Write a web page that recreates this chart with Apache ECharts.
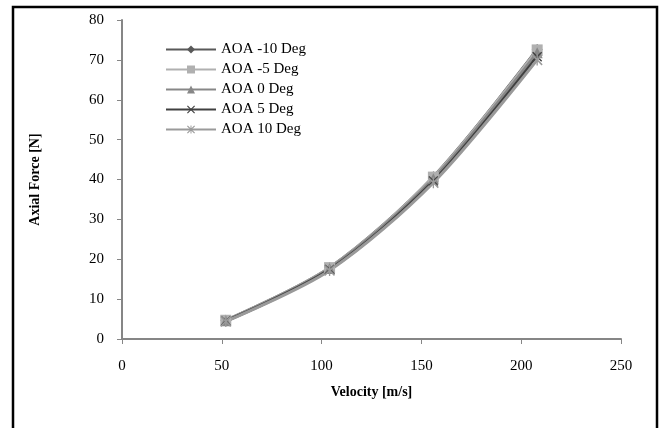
<!DOCTYPE html>
<html><head><meta charset="utf-8">
<script src="https://cdn.jsdelivr.net/npm/echarts@6/dist/echarts.min.js"></script>
<style>html,body{margin:0;padding:0;background:#fff}#c{width:660px;height:428px}</style>
</head><body><div id="c"></div>
<script>
const velocity = [52, 104, 156, 208];
const aoaM10 = [4.7, 17.9, 40.7, 72.6];
const aoaM5  = [4.7, 17.9, 40.6, 72.5];
const aoa0   = [4.6, 17.7, 40.2, 71.8];
const aoa5   = [4.5, 17.4, 39.6, 70.8];
const aoa10  = [4.4, 17.2, 39.2, 70.0];
const seriesNames = ['AOA -10 Deg', 'AOA -5 Deg', 'AOA 0 Deg', 'AOA 5 Deg', 'AOA 10 Deg'];
const xTicks = [0, 50, 100, 150, 200, 250];
const yTicks = [0, 10, 20, 30, 40, 50, 60, 70, 80];

const FONT = '"Liberation Serif", "Times New Roman", serif';
const xMark = 'path://M0,1L1,0L5,4L9,0L10,1L6,5L10,9L9,10L5,6L1,10L0,9L4,5Z';
const starMark = 'path://M0,1L1,0L5,4L9,0L10,1L6,5L10,9L9,10L5,6L1,10L0,9L4,5Z M4.4,0L5.6,0L5.6,10L4.4,10Z';
const styles = [
  {color:'#595959', symbol:'diamond', size:11},
  {color:'#b0b0b0', symbol:'rect', size:11},
  {color:'#878787', symbol:'triangle', size:11},
  {color:'#404040', symbol:xMark, size:10},
  {color:'#9a9a9a', symbol:starMark, size:11}
];
const allData = [aoaM10, aoaM5, aoa0, aoa5, aoa10];

const chart = echarts.init(document.getElementById('c'), null, {renderer:'canvas'});
chart.setOption({
  animation: false,
  backgroundColor: '#fff',
  graphic: [{
    type: 'rect', shape: {x: 13, y: 7, width: 644, height: 440},
    style: {fill: 'none', stroke: '#000', lineWidth: 2.5}, silent: true, z: 100
  }],
  legend: {
    orient: 'vertical', left: 160, top: 37, itemWidth: 50, itemHeight: 10, itemGap: 5,
    textStyle: {fontFamily: FONT, fontSize: 15, color: '#000', padding: [0,0,0,0]},
    data: seriesNames
  },
  grid: {left: 122, right: 39, top: 20, bottom: 89},
  xAxis: {
    type: 'value', min: xTicks[0], max: xTicks[xTicks.length-1], interval: 50,
    name: 'Velocity [m/s]', nameLocation: 'middle', nameGap: 46,
    nameTextStyle: {fontFamily: FONT, fontSize: 14, fontWeight: 'bold', color: '#000'},
    axisLine: {lineStyle: {color: '#868686', width: 2}},
    axisTick: {show: true, length: 5, lineStyle: {color: '#868686', width: 1}},
    axisLabel: {fontFamily: FONT, fontSize: 15, color: '#000', margin: 20},
    splitLine: {show: false}
  },
  yAxis: {
    type: 'value', min: yTicks[0], max: yTicks[yTicks.length-1], interval: 10,
    name: 'Axial Force [N]', nameLocation: 'middle', nameGap: 80,
    nameTextStyle: {fontFamily: FONT, fontSize: 14, fontWeight: 'bold', color: '#000'},
    axisLine: {show: true, lineStyle: {color: '#868686', width: 2}},
    axisTick: {show: true, length: 5, lineStyle: {color: '#868686', width: 1}},
    axisLabel: {fontFamily: FONT, fontSize: 15, color: '#000', margin: 18},
    splitLine: {show: false}
  },
  series: seriesNames.map((n, i) => ({
    name: n, type: 'line', smooth: 0.3,
    data: velocity.map((v, j) => [v, allData[i][j]]),
    symbol: styles[i].symbol, symbolSize: styles[i].size, showAllSymbol: true,
    itemStyle: {color: styles[i].color},
    lineStyle: {color: styles[i].color, width: 3}
  }))
});
</script></body></html>
